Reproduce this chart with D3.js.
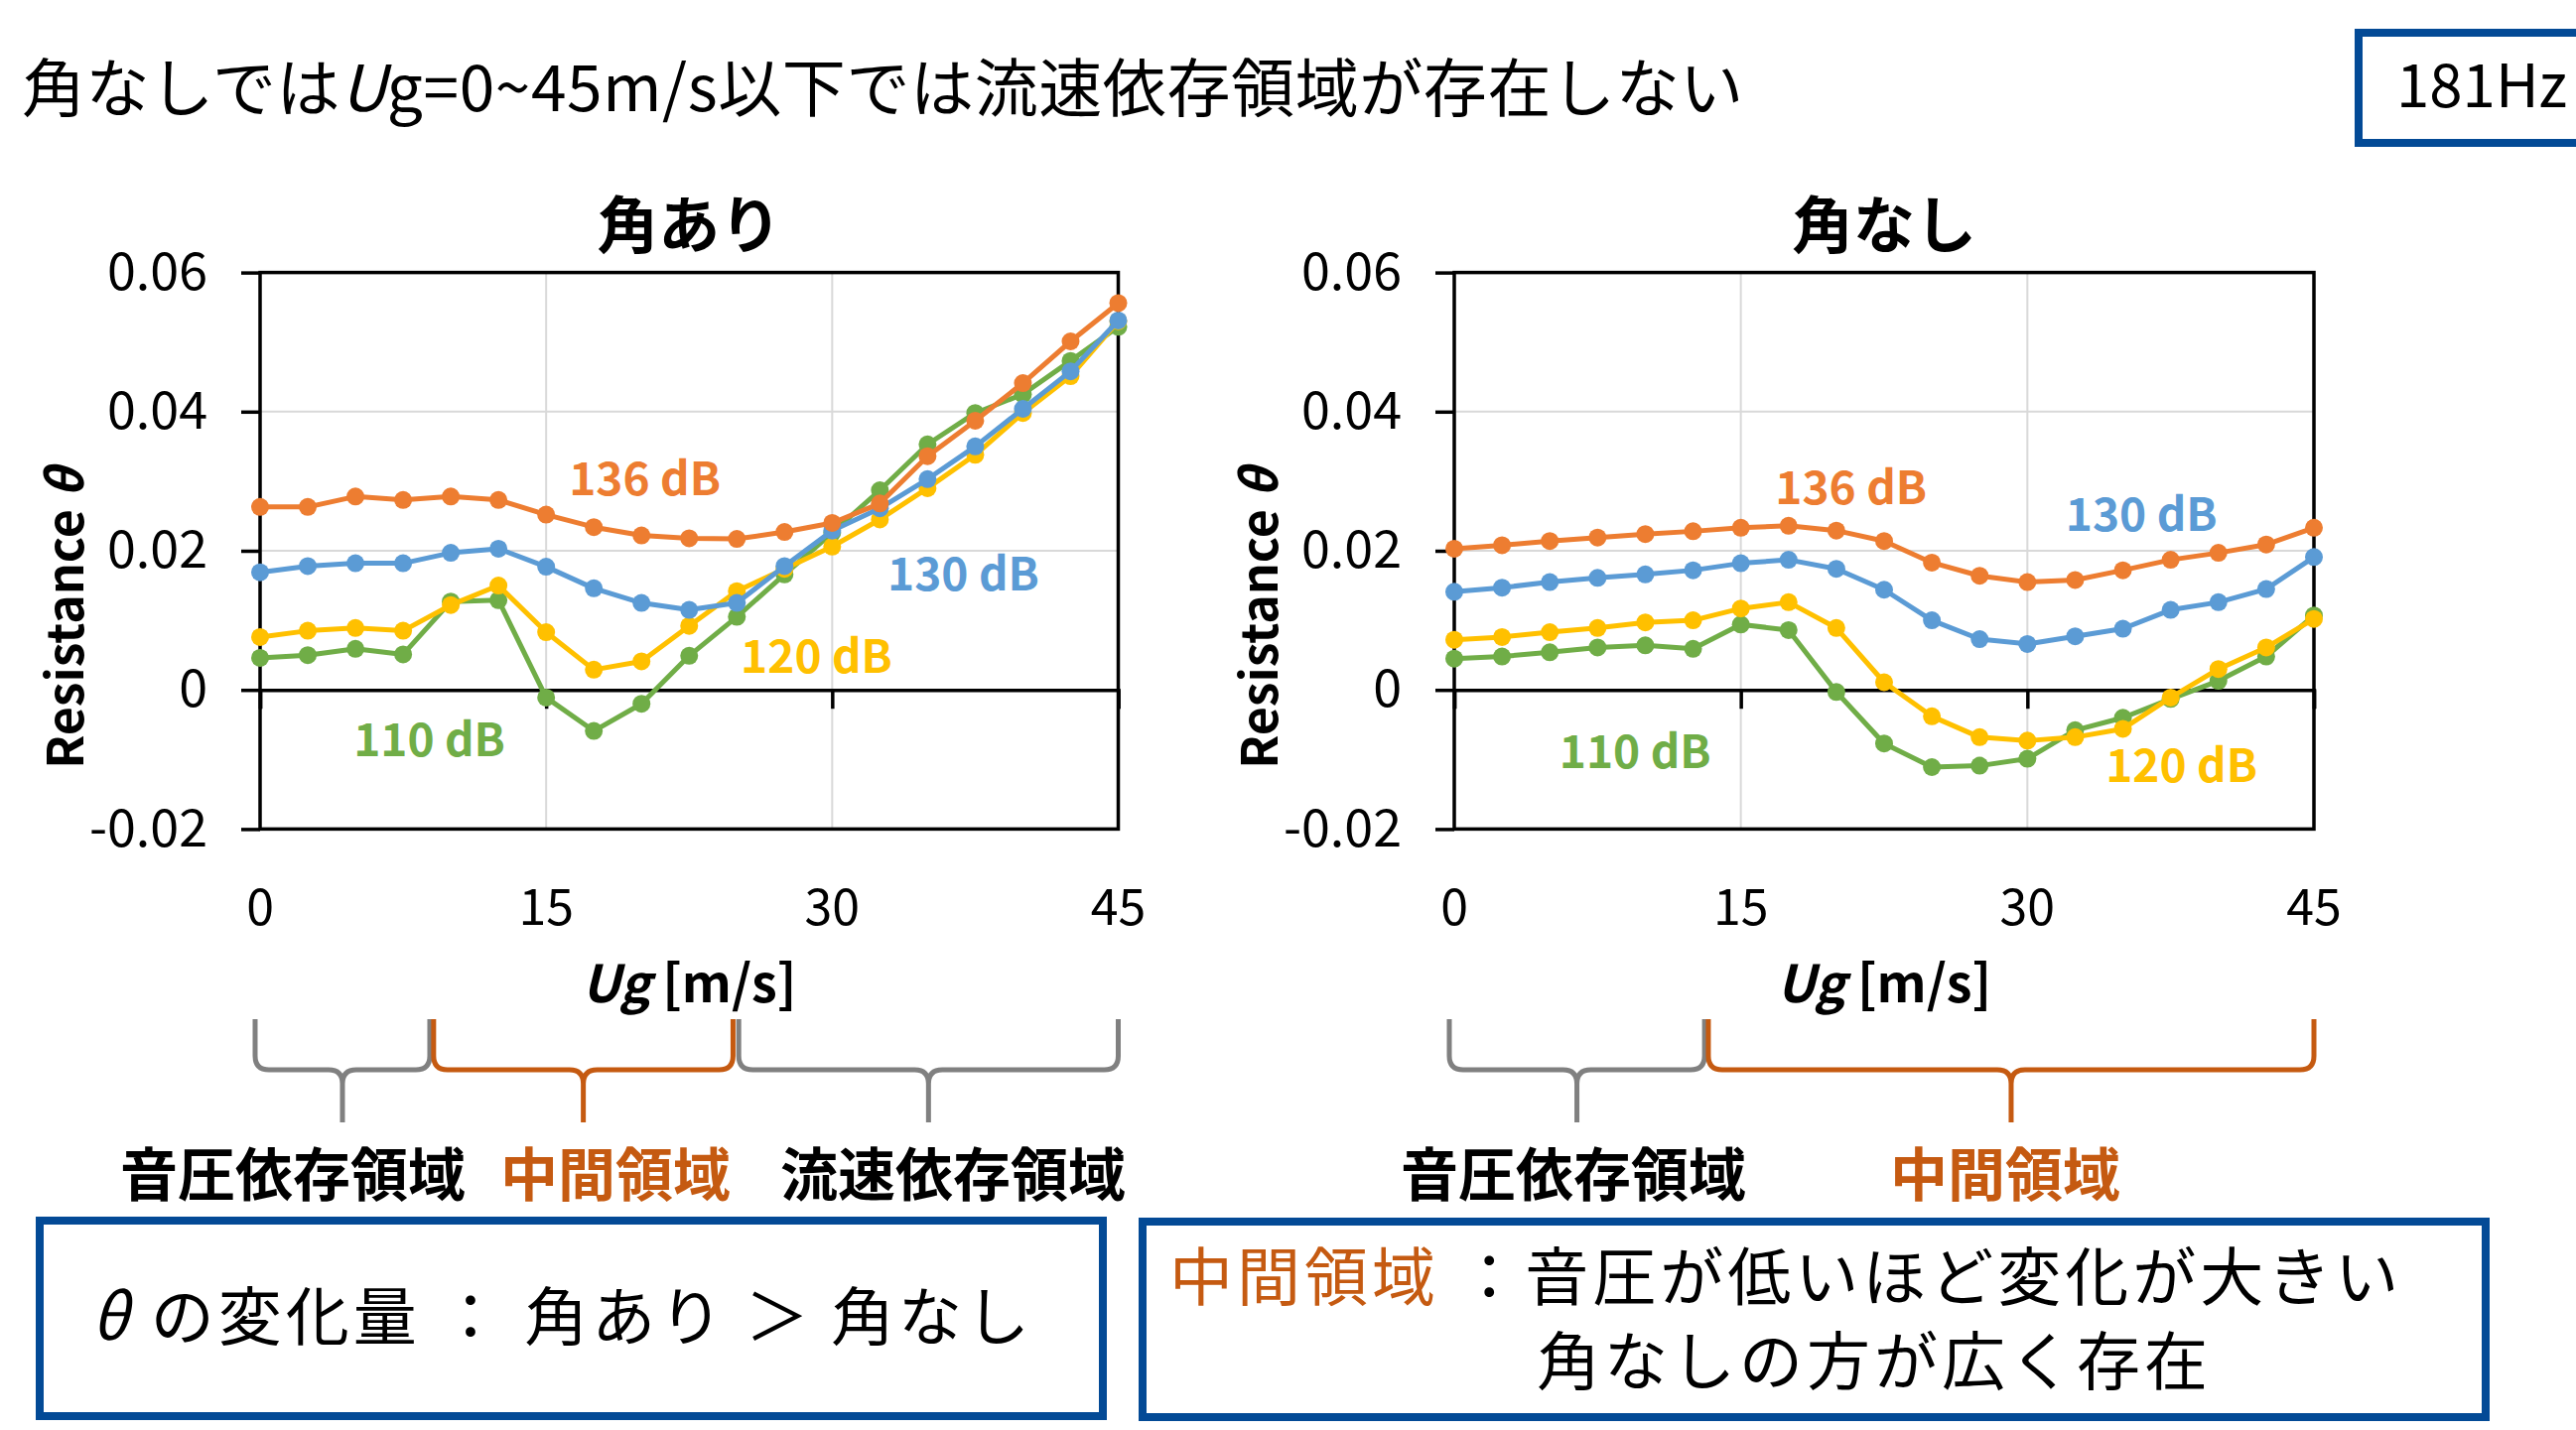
<!DOCTYPE html>
<html>
<head>
<meta charset="utf-8">
<script src="https://cdn.jsdelivr.net/npm/d3@7"></script>
<style>
  body { margin: 0; background: #fff; }
  svg { display: block; font-family: "Noto Sans CJK JP", "Noto Sans", sans-serif; }
</style>
</head>
<body>
<div id="chart"></div>
<script>
// flow speed Ug [m/s]
const ug = [0, 2.5, 5, 7.5, 10, 12.5, 15, 17.5, 20, 22.5, 25, 27.5, 30, 32.5, 35, 37.5, 40, 42.5, 45];
const xTicks = [0, 15, 30, 45];
const yTicks = [-0.02, 0, 0.02, 0.04, 0.06];
const yTickLabels = ["-0.02", "0", "0.02", "0.04", "0.06"];
const levels = ["110 dB", "120 dB", "130 dB", "136 dB"];

// 角あり
const kadoari110 = [0.0046, 0.0050, 0.0059, 0.0051, 0.0127, 0.0129, -0.0011, -0.0059, -0.0020, 0.0049, 0.0105, 0.0166, 0.0226, 0.0287, 0.0353, 0.0398, 0.0425, 0.0473, 0.0522];
const kadoari120 = [0.0076, 0.0085, 0.0089, 0.0085, 0.0122, 0.0150, 0.0083, 0.0029, 0.0041, 0.0092, 0.0142, 0.0174, 0.0206, 0.0245, 0.0290, 0.0338, 0.0398, 0.0451, 0.0530];
const kadoari130 = [0.0169, 0.0178, 0.0182, 0.0182, 0.0197, 0.0203, 0.0177, 0.0146, 0.0125, 0.0115, 0.0125, 0.0178, 0.0229, 0.0261, 0.0303, 0.0350, 0.0404, 0.0458, 0.0531];
const kadoari136 = [0.0263, 0.0263, 0.0278, 0.0273, 0.0278, 0.0273, 0.0252, 0.0234, 0.0222, 0.0218, 0.0217, 0.0227, 0.0240, 0.0268, 0.0336, 0.0387, 0.0441, 0.0501, 0.0556];

// 角なし
const kadonashi110 = [0.0045, 0.0048, 0.0054, 0.0061, 0.0064, 0.0059, 0.0094, 0.0086, -0.0003, -0.0077, -0.0111, -0.0109, -0.0099, -0.0058, -0.0040, -0.0013, 0.0013, 0.0048, 0.0107];
const kadonashi120 = [0.0072, 0.0076, 0.0083, 0.0089, 0.0097, 0.0100, 0.0117, 0.0126, 0.0089, 0.0011, -0.0038, -0.0068, -0.0073, -0.0068, -0.0056, -0.0011, 0.0030, 0.0061, 0.0102];
const kadonashi130 = [0.0141, 0.0147, 0.0155, 0.0161, 0.0166, 0.0172, 0.0182, 0.0187, 0.0174, 0.0144, 0.0100, 0.0073, 0.0066, 0.0077, 0.0088, 0.0115, 0.0126, 0.0145, 0.0191];
const kadonashi136 = [0.0203, 0.0208, 0.0214, 0.0219, 0.0224, 0.0228, 0.0233, 0.0236, 0.0229, 0.0214, 0.0183, 0.0164, 0.0155, 0.0158, 0.0172, 0.0187, 0.0197, 0.0209, 0.0233];

// where each series label sits, in data units [Ug, θ]
const kadoariLabelPos = [[4.9, -0.0096], [25.2, 0.0025], [32.9, 0.0143], [16.2, 0.0280]];
const kadonashiLabelPos = [[5.5, -0.0112], [34.1, -0.0133], [32.0, 0.0229], [16.8, 0.0267]];

// region braces under the axes, in Ug
const kadoariRegions = [[0, 8.9], [9.1, 24.8], [25.1, 45]];
const kadonashiRegions = [[0, 13.1], [13.3, 45]];

const colors = ["#70AD47", "#FFC000", "#5B9BD5", "#ED7D31"];
const braceGray = "#808080";
const braceOrange = "#C55A11";
const boxBlue = "#034A96";

const W = 2595, H = 1441;
const svg = d3.select("#chart").append("svg")
    .attr("width", W).attr("height", H)
    .attr("viewBox", [0, 0, W, H]);

svg.append("rect").attr("width", W).attr("height", H).attr("fill", "#fff");

// headline
const head = svg.append("text")
    .attr("x", 22).attr("y", 112)
    .attr("font-size", 64).attr("letter-spacing", 0.6).attr("fill", "#000");
head.append("tspan").text("角なしでは");
head.append("tspan").attr("font-style", "italic").text("U");
head.append("tspan").text("g=0~45m/s以下では流速依存領域が存在しない");

// 181Hz tag
svg.append("rect")
    .attr("x", 2376).attr("y", 33).attr("width", 260).attr("height", 111)
    .attr("fill", "none").attr("stroke", boxBlue).attr("stroke-width", 8);
svg.append("text")
    .attr("x", 2414).attr("y", 108)
    .attr("font-size", 60).text("181Hz");

function drawChart(opt) {
    const x = d3.scaleLinear().domain([0, 45]).range([opt.left, opt.right]);
    const y = d3.scaleLinear().domain([-0.02, 0.06]).range([835.4, 274.6]);
    const g = svg.append("g");

    // gridlines
    g.append("g").selectAll("line")
        .data([15, 30]).join("line")
        .attr("x1", d => x(d)).attr("x2", d => x(d))
        .attr("y1", y(0.06)).attr("y2", y(-0.02))
        .attr("stroke", "#d9d9d9").attr("stroke-width", 2);
    g.append("g").selectAll("line")
        .data([0.02, 0.04]).join("line")
        .attr("x1", x(0)).attr("x2", x(45))
        .attr("y1", d => y(d)).attr("y2", d => y(d))
        .attr("stroke", "#d9d9d9").attr("stroke-width", 2);

    // frame
    g.append("rect")
        .attr("x", x(0)).attr("y", y(0.06))
        .attr("width", x(45) - x(0)).attr("height", y(-0.02) - y(0.06))
        .attr("fill", "none").attr("stroke", "#000").attr("stroke-width", 3.5);

    // y axis
    const yAxis = d3.axisLeft(y)
        .tickValues(yTicks)
        .tickSize(19).tickPadding(34)
        .tickFormat((d, i) => yTickLabels[i]);
    const ya = g.append("g")
        .attr("transform", `translate(${x(0)},0)`)
        .call(yAxis);
    ya.select(".domain").remove();
    ya.selectAll(".tick line").attr("stroke", "#000").attr("stroke-width", 3.5);
    ya.selectAll(".tick text")
        .attr("font-size", 52).attr("fill", "#000")
        .attr("font-family", "'Noto Sans CJK JP', sans-serif");

    // x axis along θ = 0, ticks pointing down
    const xAxis = d3.axisBottom(x).tickValues(xTicks).tickSize(19).tickFormat("");
    const xa = g.append("g")
        .attr("transform", `translate(0,${y(0)})`)
        .call(xAxis);
    xa.select(".domain").attr("stroke", "#000").attr("stroke-width", 3.5);
    xa.selectAll(".tick line").attr("stroke", "#000").attr("stroke-width", 3.5);

    // x tick labels sit below the plot
    g.append("g").selectAll("text")
        .data(xTicks).join("text")
        .attr("x", d => x(d)).attr("y", 932)
        .attr("text-anchor", "middle")
        .attr("font-size", 50)
        .text(d => d);

    // series
    const line = d3.line().x((d, i) => x(ug[i])).y(d => y(d));
    opt.series.forEach((s, k) => {
        const sg = g.append("g");
        sg.append("path")
            .attr("d", line(s))
            .attr("fill", "none")
            .attr("stroke", colors[k])
            .attr("stroke-width", 5)
            .attr("stroke-linejoin", "round");
        sg.selectAll("circle")
            .data(s).join("circle")
            .attr("cx", (d, i) => x(ug[i]))
            .attr("cy", d => y(d))
            .attr("r", 9)
            .attr("fill", colors[k]);
    });

    // series labels
    g.append("g").selectAll("text")
        .data(levels).join("text")
        .attr("x", (d, i) => x(opt.labelPos[i][0]))
        .attr("y", (d, i) => y(opt.labelPos[i][1]))
        .attr("font-size", 46).attr("font-weight", "bold")
        .attr("fill", (d, i) => colors[i])
        .text(d => d);

    // chart title
    g.append("text")
        .attr("x", (opt.left + opt.right) / 2).attr("y", 250)
        .attr("text-anchor", "middle")
        .attr("font-size", 62).attr("font-weight", "bold")
        .text(opt.title);

    // y axis title
    const yt = g.append("text")
        .attr("transform", `translate(${opt.left - 178},623) rotate(-90)`)
        .attr("text-anchor", "middle")
        .attr("font-size", 50).attr("font-weight", "bold");
    yt.append("tspan").text("Resistance ");
    yt.append("tspan").attr("font-style", "italic").text("θ");

    // x axis title
    const xt = g.append("text")
        .attr("x", (opt.left + opt.right) / 2).attr("y", 1010)
        .attr("text-anchor", "middle")
        .attr("font-size", 52).attr("font-weight", "bold");
    xt.append("tspan").attr("font-style", "italic").text("Ug");
    xt.append("tspan").text(" [m/s]");

    // braces
    const yTop = 1027, yBar = 1078, yTip = 1131, r = 14;
    opt.regions.forEach((rg, i) => {
        const x1 = x(rg[0]) - (rg[0] === 0 ? 5 : 0);
        const x2 = x(rg[1]);
        const xm = (x1 + x2) / 2;
        const p = d3.path();
        p.moveTo(x1, yTop);
        p.lineTo(x1, yBar - r);
        p.quadraticCurveTo(x1, yBar, x1 + r, yBar);
        p.lineTo(xm - r, yBar);
        p.quadraticCurveTo(xm, yBar, xm, yBar + r);
        p.lineTo(xm, yTip);
        p.moveTo(xm, yBar + r);
        p.quadraticCurveTo(xm, yBar, xm + r, yBar);
        p.lineTo(x2 - r, yBar);
        p.quadraticCurveTo(x2, yBar, x2, yBar - r);
        p.lineTo(x2, yTop);
        g.append("path")
            .attr("d", p.toString())
            .attr("fill", "none")
            .attr("stroke", opt.braceColors[i])
            .attr("stroke-width", 5);
    });

    // region names
    g.append("g").selectAll("text")
        .data(opt.regionNames).join("text")
        .attr("x", d => d[1]).attr("y", 1205)
        .attr("text-anchor", "middle")
        .attr("font-size", 58).attr("font-weight", "bold")
        .attr("fill", d => d[2])
        .text(d => d[0]);
}

drawChart({
    title: "角あり",
    left: 262, right: 1126.5,
    series: [kadoari110, kadoari120, kadoari130, kadoari136],
    labelPos: kadoariLabelPos,
    regions: kadoariRegions,
    braceColors: [braceGray, braceOrange, braceGray],
    regionNames: [["音圧依存領域", 295, "#000"], ["中間領域", 620, braceOrange], ["流速依存領域", 960, "#000"]]
});

drawChart({
    title: "角なし",
    left: 1465, right: 2331,
    series: [kadonashi110, kadonashi120, kadonashi130, kadonashi136],
    labelPos: kadonashiLabelPos,
    regions: kadonashiRegions,
    braceColors: [braceGray, braceOrange],
    regionNames: [["音圧依存領域", 1585, "#000"], ["中間領域", 2020, braceOrange]]
});

// summary boxes
svg.append("rect")
    .attr("x", 40).attr("y", 1230).attr("width", 1071).attr("height", 197)
    .attr("fill", "#fff").attr("stroke", boxBlue).attr("stroke-width", 8);
const b1 = svg.append("text")
    .attr("x", 92).attr("y", 1350)
    .attr("font-size", 64).attr("letter-spacing", 4);
b1.append("tspan").attr("font-style", "italic").text("θ");
b1.append("tspan").text(" の変化量 ： 角あり ＞ 角なし");

svg.append("rect")
    .attr("x", 1151).attr("y", 1231).attr("width", 1353).attr("height", 197)
    .attr("fill", "#fff").attr("stroke", boxBlue).attr("stroke-width", 8);
const b2 = svg.append("text")
    .attr("x", 1178).attr("y", 1310)
    .attr("font-size", 64).attr("letter-spacing", 4);
b2.append("tspan").attr("fill", braceOrange).text("中間領域");
b2.append("tspan").attr("fill", "#000").text(" ：音圧が低いほど変化が大きい");
svg.append("text")
    .attr("x", 1548).attr("y", 1395)
    .attr("font-size", 64).attr("letter-spacing", 4)
    .text("角なしの方が広く存在");
</script>
</body>
</html>
